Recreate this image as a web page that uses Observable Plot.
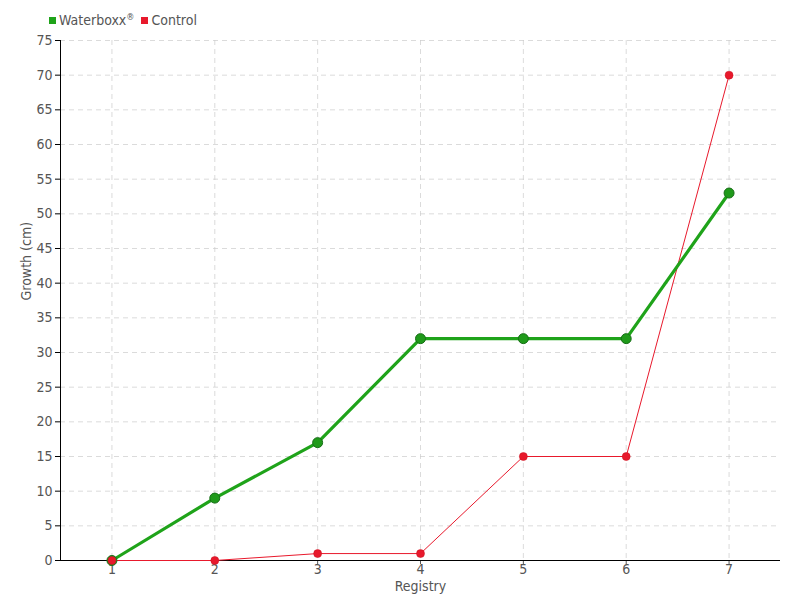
<!DOCTYPE html>
<html><head><meta charset="utf-8">
<script src="https://cdn.jsdelivr.net/npm/d3@7"></script>
<script src="https://cdn.jsdelivr.net/npm/@observablehq/plot@0.6"></script>
<style>
body{margin:0;background:#fff;font-family:"DejaVu Sans",sans-serif;font-stretch:condensed;}
#legend{height:30px;display:flex;align-items:flex-end;padding-left:49px;font-size:14px;color:#555;box-sizing:border-box;padding-bottom:2px;}
#legend .it{margin-right:7px;white-space:nowrap;}
#legend sup{font-size:9px;vertical-align:5px;line-height:0;}
.sw{display:inline-block;width:7px;height:7px;margin-right:3px;vertical-align:1px;}
</style></head><body>
<div id="legend"></div>
<div id="chart"></div>
<script>
const registry = [1,2,3,4,5,6,7];
const waterboxx = [0,9,17,32,32,32,53];
const control = [0,0,1,1,15,15,70];
const seriesNames = ["Waterboxx","Control"];
const seriesMarks = ["®",""];
const seriesColors = ["#1fa31a","#e8192c"];
const yTicks = d3.range(0,76,5);

const wData = registry.map((r,i)=>({x:r,y:waterboxx[i]}));
const cData = registry.map((r,i)=>({x:r,y:control[i]}));

const leg = document.getElementById("legend");
leg.innerHTML = seriesNames.map((n,i)=>`<span class="it"><i class="sw" style="background:${seriesColors[i]}"></i>${n}${seriesMarks[i]?`<sup>${seriesMarks[i]}</sup>`:""}</span>`).join("");

const ff = '"DejaVu Sans",sans-serif';
const chart = Plot.plot({
  width:800, height:570,
  marginTop:10, marginBottom:40, marginLeft:60, marginRight:20,
  style:{fontFamily:ff,fontSize:"14px",color:"#555",fontStretch:"condensed"},
  x:{domain:[0.5,7.5], ticks:registry, tickFormat:d=>d, label:null},
  y:{domain:[0,75], ticks:yTicks, label:null},
  marks:[
    Plot.gridY(yTicks,{stroke:"#ccc",strokeOpacity:0.7,strokeDasharray:"5,4"}),
    Plot.gridX(registry,{stroke:"#ccc",strokeOpacity:0.7,strokeDasharray:"5,4"}),
    Plot.axisY(yTicks,{tickSize:5,tickPadding:3,stroke:"#000",fill:"#555",fontSize:14}),
    Plot.axisX(registry,{tickSize:4,tickPadding:0,stroke:"#555",fill:"#555",fontSize:14}),
    Plot.ruleY([0],{stroke:"#000"}),
    Plot.ruleX([0.5],{stroke:"#000"}),
    Plot.text(["Registry"],{frameAnchor:"bottom",dy:30,fill:"#555",fontSize:14,textAnchor:"middle"}),
    Plot.text(["Growth (cm)"],{frameAnchor:"left",dx:-34,rotate:-90,fill:"#555",fontSize:14}),
    Plot.line(cData,{x:"x",y:"y",stroke:seriesColors[1],strokeWidth:1}),
    Plot.line(wData,{x:"x",y:"y",stroke:seriesColors[0],strokeWidth:3.2}),
    Plot.dot(cData,{x:"x",y:"y",r:4,fill:seriesColors[1],stroke:"#c8101f",strokeWidth:0.5}),
    Plot.dot(wData,{x:"x",y:"y",r:5,fill:"#1f9a1a",stroke:"#186e18",strokeWidth:1}),
    Plot.dot([cData[0]],{x:"x",y:"y",r:4,fill:seriesColors[1],stroke:"#c8101f",strokeWidth:0.5})
  ]
});
document.getElementById("chart").append(chart);
</script>
</body></html>
